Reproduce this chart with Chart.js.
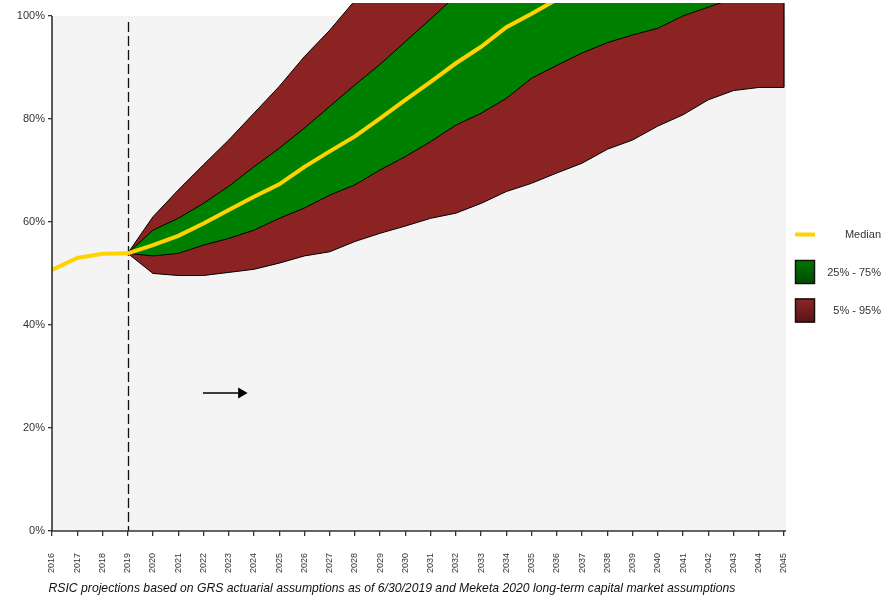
<!DOCTYPE html>
<html>
<head>
<meta charset="utf-8">
<script src="https://cdn.jsdelivr.net/npm/chart.js@4/dist/chart.umd.min.js"></script>
<style>
  html, body { margin: 0; padding: 0; background: #ffffff; }
  #wrap { position: relative; width: 889px; height: 595px; }
</style>
</head>
<body>
<div id="wrap"><canvas id="c" width="889" height="595"></canvas></div>
<script>
// Funded ratio projections, 2016-2045 (percent)
const years = ['2016','2017','2018','2019','2020','2021','2022','2023','2024','2025',
               '2026','2027','2028','2029','2030','2031','2032','2033','2034','2035',
               '2036','2037','2038','2039','2040','2041','2042','2043','2044','2045'];

const median = [50.7, 53.0, 53.8, 53.9, 55.5, 57.3, 59.7, 62.3, 64.9, 67.3,
                70.7, 73.7, 76.6, 80.1, 83.7, 87.2, 90.8, 94.0, 97.8, 100.4,
                103.2, null, null, null, null, null, null, null, null, null];

const p95 = [null, null, null, 53.9, 61.0, 66.2, 71.1, 75.9, 81.1, 86.3,
             92.1, 97.2, 103.0, 108.4, 113.5, 118.9, 123.6, 128.8, 133.7, 138.2,
             142.9, 147.1, 151.6, 155.4, 159.8, 163.5, 167.2, 170.6, 174.3, 177.5];

const p75 = [null, null, null, 53.9, 58.4, 60.7, 63.6, 66.9, 70.7, 74.3,
             78.2, 82.4, 86.6, 90.6, 95.0, 99.4, 103.9, 108.1, 112.0, 116.2,
             119.8, 123.5, 127.9, 131.4, 135.2, 138.6, 142.3, 145.7, 149.4, 152.8];

const p25 = [null, null, null, 53.9, 53.4, 53.9, 55.5, 56.8, 58.4, 60.7,
             62.7, 65.2, 67.2, 70.1, 72.7, 75.6, 78.8, 81.1, 84.0, 87.9,
             90.4, 92.8, 94.8, 96.3, 97.6, 100.0, 101.7, 103.4, 105.2, 106.9];

const p5 = [null, null, null, 53.9, 50.0, 49.6, 49.6, 50.2, 50.8, 52.0,
            53.4, 54.2, 56.2, 57.8, 59.2, 60.7, 61.7, 63.6, 65.9, 67.5,
            69.5, 71.4, 74.1, 75.9, 78.6, 80.8, 83.7, 85.5, 86.1, 86.1];

const yTicks = [0, 20, 40, 60, 80, 100];
const legendItems = ['Median', '25% - 75%', '5% - 95%'];
const caption = 'RSIC projections based on GRS actuarial assumptions as of 6/30/2019 and Meketa 2020 long-term capital market assumptions';

// Start of projections (index into years) and the direction arrow, in axis units
const projectionStart = 3;
const arrowSpan = { from: 5.98, to: 7.75, y: 26.8 };

const RED = '#8b2323';
const GREEN = '#008000';
const GOLD = '#ffd200';
const INK = '#333333';
const SANS = '"Liberation Sans", Arial, sans-serif';

const framePlugin = {
  id: 'frame',
  beforeDatasetsDraw(chart) {
    const { ctx, scales: { x, y } } = chart;
    const left = x.getPixelForValue(0), right = x.getPixelForValue(years.length - 1) + 2;
    const top = y.getPixelForValue(100), bottom = y.getPixelForValue(0);
    ctx.save();
    ctx.fillStyle = '#f4f4f4';
    ctx.fillRect(left, top, right - left, bottom - top);
    // dashed marker at start of projections
    const xs = Math.round(x.getPixelForValue(projectionStart)) + 0.5;
    ctx.strokeStyle = '#111';
    ctx.lineWidth = 1.3;
    ctx.setLineDash([10, 4]);
    ctx.beginPath();
    ctx.moveTo(xs, y.getPixelForValue(98.8));
    ctx.lineTo(xs, bottom);
    ctx.stroke();
    ctx.restore();
  },
  afterDatasetsDraw(chart) {
    const { ctx, chartArea, scales: { x, y } } = chart;
    ctx.save();
    // right edge of the band at the final year
    const xr = x.getPixelForValue(years.length - 1);
    ctx.strokeStyle = '#000';
    ctx.lineWidth = 1.2;
    ctx.beginPath();
    ctx.moveTo(xr, chartArea.top);
    ctx.lineTo(xr, y.getPixelForValue(p5[p5.length - 1]));
    ctx.stroke();

    // direction arrow
    const ay = y.getPixelForValue(arrowSpan.y);
    const ax0 = x.getPixelForValue(arrowSpan.from);
    const ax1 = x.getPixelForValue(arrowSpan.to);
    ctx.strokeStyle = '#000';
    ctx.fillStyle = '#000';
    ctx.lineWidth = 1.4;
    ctx.beginPath();
    ctx.moveTo(ax0, ay);
    ctx.lineTo(ax1 - 9, ay);
    ctx.stroke();
    ctx.beginPath();
    ctx.moveTo(ax1, ay);
    ctx.lineTo(ax1 - 9.5, ay - 5.5);
    ctx.lineTo(ax1 - 9.5, ay + 5.5);
    ctx.closePath();
    ctx.fill();

    // axis lines
    const left = x.getPixelForValue(0);
    const bottom = y.getPixelForValue(0);
    ctx.strokeStyle = INK;
    ctx.lineWidth = 1.6;
    ctx.beginPath();
    ctx.moveTo(left, y.getPixelForValue(100));
    ctx.lineTo(left, bottom);
    ctx.lineTo(x.getPixelForValue(years.length - 1) + 2, bottom);
    ctx.stroke();
    ctx.restore();
  },
  afterDraw(chart) {
    const { ctx } = chart;
    ctx.save();
    const sx = 795, sw = 20, tx = 881;
    // median swatch
    ctx.strokeStyle = GOLD;
    ctx.lineWidth = 4;
    ctx.beginPath();
    ctx.moveTo(sx, 234.5);
    ctx.lineTo(sx + sw, 234.5);
    ctx.stroke();
    // band swatches
    const box = (top, c1, c2) => {
      const g = ctx.createLinearGradient(0, top, 0, top + 24);
      g.addColorStop(0, c1);
      g.addColorStop(1, c2);
      ctx.fillStyle = g;
      ctx.fillRect(sx, top, sw, 24);
      ctx.strokeStyle = '#111';
      ctx.lineWidth = 1.5;
      ctx.strokeRect(sx + 0.5, top + 0.5, sw - 1, 23);
    };
    box(260, '#007800', '#004a00');
    box(298.5, '#8e2626', '#5a1414');
    ctx.fillStyle = INK;
    ctx.font = '11px ' + SANS;
    ctx.textAlign = 'right';
    ctx.textBaseline = 'middle';
    ctx.fillText(legendItems[0], tx, 234.5);
    ctx.fillText(legendItems[1], tx, 273);
    ctx.fillText(legendItems[2], tx, 311);
    ctx.restore();
  }
};

const line = (label, data, extra) => Object.assign({
  label, data,
  borderColor: '#000',
  borderWidth: 1,
  pointRadius: 0,
  pointHoverRadius: 0,
  tension: 0,
  fill: false
}, extra);

new Chart(document.getElementById('c'), {
  type: 'line',
  data: {
    labels: years,
    datasets: [
      line('95th percentile', p95, { fill: 1, backgroundColor: RED, order: 5 }),
      line('5th percentile', p5, { order: 4 }),
      line('75th percentile', p75, { fill: 3, backgroundColor: GREEN, order: 3 }),
      line('25th percentile', p25, { order: 2 }),
      line('Median', median, { borderColor: GOLD, borderWidth: 4, order: 1 })
    ]
  },
  options: {
    responsive: false,
    devicePixelRatio: 1,
    animation: false,
    events: [],
    layout: { padding: { left: 0, right: 105, top: 3, bottom: 0 } },
    plugins: {
      legend: { display: false },
      tooltip: { enabled: false },
      title: {
        display: true,
        position: 'bottom',
        align: 'center',
        text: caption,
        color: '#111',
        font: { family: SANS, size: 12.2, style: 'italic', weight: 'normal', lineHeight: 12 / 12.2 },
        padding: { top: 0, bottom: 0 }
      }
    },
    scales: {
      x: {
        type: 'category',
        offset: false,
        border: { display: false },
        grid: { drawOnChartArea: false, drawTicks: true, tickLength: 5, tickColor: INK, lineWidth: 1.3 },
        ticks: {
          autoSkip: false, maxRotation: 90, minRotation: 90, padding: 17,
          color: INK, font: { family: SANS, size: 9 }
        },
        afterFit(s) { s.height = 52; }
      },
      y: {
        min: 0, max: 102.5,
        border: { display: false },
        grid: { drawOnChartArea: false, drawTicks: true, tickLength: 4, tickColor: INK, lineWidth: 1.3 },
        ticks: {
          stepSize: 20, padding: 3, color: INK,
          font: { family: SANS, size: 11 },
          callback: v => v + '%'
        },
        afterBuildTicks(s) { s.ticks = yTicks.map(v => ({ value: v })); },
        afterFit(s) { s.width = 52; s.paddingTop = 0; s.paddingBottom = 0; }
      }
    }
  },
  plugins: [framePlugin]
});
</script>
</body>
</html>
